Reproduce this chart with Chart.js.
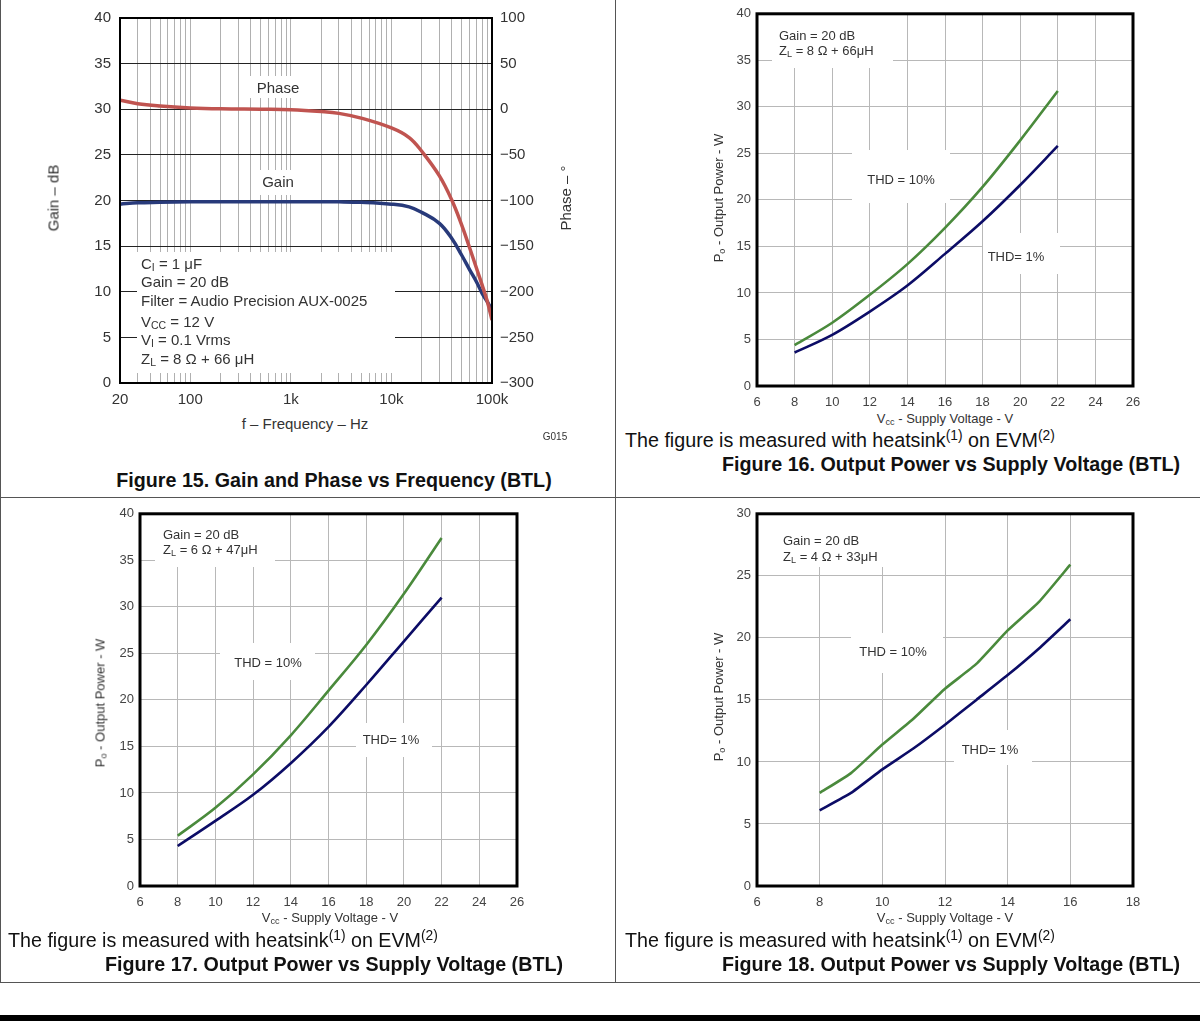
<!DOCTYPE html>
<html>
<head>
<meta charset="utf-8">
<script src="https://cdn.jsdelivr.net/npm/chart.js@4.4.1/dist/chart.umd.min.js"></script>
<style>
  body { margin: 0; background: #fff; font-family: 'Liberation Sans', Arial, sans-serif; color: #222; }
  #page { position: relative; width: 1200px; height: 1021px; overflow: hidden; }
  canvas { position: absolute; }
  .t { position: absolute; white-space: nowrap; line-height: 1; }
  .c { transform: translate(-50%, -50%); }
  .l { transform: translateY(-50%); }
  .r { transform: translate(-100%, -50%); }
  .rot { transform: translate(-50%, -50%) rotate(-90deg); }
  .f15 { font-size: 15px; color: #333; }
  .sm { font-size: 13px; color: #333; }
  .cap { font-size: 19.7px; color: #111; }
  .fig { font-size: 19.7px; font-weight: bold; color: #111; }
  sub { font-size: 70%; vertical-align: -0.25em; line-height: 0; }
  sup { font-size: 70%; vertical-align: 0.55em; line-height: 0; }
  .rule { position: absolute; background: #555; }
</style>
</head>
<body>
<div id="page">
  <canvas id="fig15" width="612" height="410" style="left:0;top:0"></canvas>
  <canvas id="fig16" width="575" height="410" style="left:620px;top:0"></canvas>
  <canvas id="fig17" width="612" height="410" style="left:0;top:500px"></canvas>
  <canvas id="fig18" width="575" height="410" style="left:620px;top:500px"></canvas>

  <!-- table rules -->
  <div class="rule" style="left:0;top:0;width:1px;height:983px"></div>
  <div class="rule" style="left:615px;top:0;width:1px;height:983px"></div>
  <div class="rule" style="left:0;top:497px;width:1200px;height:1px"></div>
  <div class="rule" style="left:0;top:982px;width:1200px;height:1px"></div>
  <div class="rule" style="left:0;top:1015px;width:1200px;height:6px;background:#000"></div>

  <!-- Figure 15 text -->
  <div class="t rot f15" style="left:53px;top:198px">Gain – dB</div>
  <div class="t rot f15" style="left:565px;top:198px">Phase – °</div>
  <div class="t c f15" style="left:305px;top:423px">f – Frequency – Hz</div>
  <div class="t c" style="left:555px;top:437px;font-size:10px;color:#333">G015</div>
  <div class="t c f15" style="left:278px;top:87px">Phase</div>
  <div class="t c f15" style="left:278px;top:181px">Gain</div>
  <div class="t l f15" style="left:141px;top:263px">C<sub>I</sub> = 1 μF</div>
  <div class="t l f15" style="left:141px;top:281px">Gain = 20 dB</div>
  <div class="t l f15" style="left:141px;top:300px">Filter = Audio Precision AUX-0025</div>
  <div class="t l f15" style="left:141px;top:321px">V<sub>CC</sub> = 12 V</div>
  <div class="t l f15" style="left:141px;top:339px">V<sub>I</sub> = 0.1 Vrms</div>
  <div class="t l f15" style="left:141px;top:358px">Z<sub>L</sub> = 8 Ω + 66 μH</div>
  <div class="t c fig" style="left:334px;top:481px">Figure 15. Gain and Phase vs Frequency (BTL)</div>

  <!-- Figure 16 text -->
  <div class="t l sm" style="left:779px;top:35px">Gain = 20 dB</div>
  <div class="t l sm" style="left:779px;top:50px">Z<sub>L</sub> = 8 Ω + 66μH</div>
  <div class="t c sm" style="left:901px;top:179px">THD = 10%</div>
  <div class="t c sm" style="left:1016px;top:256px">THD= 1%</div>
  <div class="t rot sm" style="left:718px;top:198px">P<sub>o</sub> - Output Power - W</div>
  <div class="t c sm" style="left:945px;top:418px">V<sub>cc</sub> - Supply Voltage - V</div>
  <div class="t l cap" style="left:625px;top:441px">The figure is measured with heatsink<sup>(1)</sup> on EVM<sup>(2)</sup></div>
  <div class="t r fig" style="left:1180px;top:465px">Figure 16. Output Power vs Supply Voltage (BTL)</div>

  <!-- Figure 17 text -->
  <div class="t l sm" style="left:163px;top:534px">Gain = 20 dB</div>
  <div class="t l sm" style="left:163px;top:549px">Z<sub>L</sub> = 6 Ω + 47μH</div>
  <div class="t c sm" style="left:268px;top:662px">THD = 10%</div>
  <div class="t c sm" style="left:391px;top:739px">THD= 1%</div>
  <div class="t rot sm" style="left:100px;top:703px">P<sub>o</sub> - Output Power - W</div>
  <div class="t c sm" style="left:330px;top:917px">V<sub>cc</sub> - Supply Voltage - V</div>
  <div class="t l cap" style="left:8px;top:941px">The figure is measured with heatsink<sup>(1)</sup> on EVM<sup>(2)</sup></div>
  <div class="t r fig" style="left:563px;top:965px">Figure 17. Output Power vs Supply Voltage (BTL)</div>

  <!-- Figure 18 text -->
  <div class="t l sm" style="left:783px;top:540px">Gain = 20 dB</div>
  <div class="t l sm" style="left:783px;top:556px">Z<sub>L</sub> = 4 Ω + 33μH</div>
  <div class="t c sm" style="left:893px;top:651px">THD = 10%</div>
  <div class="t c sm" style="left:990px;top:749px">THD= 1%</div>
  <div class="t rot sm" style="left:718px;top:697px">P<sub>o</sub> - Output Power - W</div>
  <div class="t c sm" style="left:945px;top:917px">V<sub>cc</sub> - Supply Voltage - V</div>
  <div class="t l cap" style="left:625px;top:941px">The figure is measured with heatsink<sup>(1)</sup> on EVM<sup>(2)</sup></div>
  <div class="t r fig" style="left:1180px;top:965px">Figure 18. Output Power vs Supply Voltage (BTL)</div>
</div>

<script>
// Figure 15 - gain and phase vs frequency
const fig15Freq = [20, 30, 50, 100, 200, 500, 1000, 2000, 3000, 5000, 10000, 15000, 20000, 30000, 40000, 50000, 60000, 70000, 80000, 90000, 100000];
const fig15Gain = [19.6, 19.75, 19.8, 19.85, 19.85, 19.85, 19.85, 19.85, 19.85, 19.8, 19.6, 19.3, 18.7, 17.5, 15.8, 14.0, 12.4, 11.1, 9.8, 8.9, 8.0];
const fig15Phase = [10, 6, 3.5, 1.5, 0.5, 0, -0.5, -2.5, -4.5, -9.7, -20.5, -31, -46, -73, -100, -127, -152, -174, -193, -211, -231];
const fig15FreqTicks = [20, 100, 1000, 10000, 100000];
const fig15FreqLabels = ['20', '100', '1k', '10k', '100k'];

// Figures 16-18 - output power vs supply voltage
const fig16Vcc = [8, 10, 12, 14, 16, 18, 20, 22];
const fig16Thd10 = [4.4, 6.8, 9.8, 13.1, 17.0, 21.4, 26.4, 31.7];
const fig16Thd1 = [3.6, 5.5, 8.0, 10.8, 14.2, 17.7, 21.6, 25.8];

const fig17Vcc = [8, 10, 12, 14, 16, 18, 20, 22];
const fig17Thd10 = [5.4, 8.4, 12.0, 16.2, 21.0, 25.9, 31.4, 37.4];
const fig17Thd1 = [4.3, 7.0, 9.8, 13.2, 17.1, 21.6, 26.3, 31.0];

const fig18Vcc = [8, 9, 10, 11, 12, 13, 14, 15, 16];
const fig18Thd10 = [7.5, 9.1, 11.4, 13.5, 15.9, 17.9, 20.6, 22.9, 25.9];
const fig18Thd1 = [6.1, 7.5, 9.4, 11.1, 13.0, 15.0, 17.0, 19.15, 21.5];

const GREEN = '#4a8a3c';
const NAVY = '#0c0c66';

// white label boxes over the grid + black frame round the plot
const paper = {
  id: 'paper',
  beforeDatasetsDraw(chart, args, opts) {
    const ctx = chart.ctx;
    ctx.save();
    ctx.fillStyle = '#fff';
    (opts.boxes || []).forEach(b => ctx.fillRect(b[0], b[1], b[2], b[3]));
    ctx.restore();
  },
  afterDatasetsDraw(chart, args, opts) {
    const a = chart.chartArea, ctx = chart.ctx;
    ctx.save();
    ctx.strokeStyle = '#000';
    ctx.lineWidth = opts.frame;
    ctx.strokeRect(a.left, a.top, a.right - a.left, a.bottom - a.top);
    ctx.restore();
  }
};

const pts = (xs, ys) => xs.map((x, i) => ({ x, y: ys[i] }));

// Fig 15 ---------------------------------------------------------
(function () {
  const W = 612, H = 410;
  const area = { left: 120, right: 492, top: 13, bottom: 383 };
  // log grid: 20..90, 100..900, ... 100k
  const grid = [];
  for (let d = 10; d <= 10000; d *= 10) {
    for (let m = 1; m < 10; m++) {
      const v = m * d;
      if (v >= 20) grid.push(v);
    }
  }
  grid.push(100000);
  const tickFont = { family: "'Liberation Sans', Arial, sans-serif", size: 15 };

  new Chart(document.getElementById('fig15'), {
    type: 'line',
    data: {
      datasets: [
        { label: 'Phase', data: pts(fig15Freq, fig15Phase), yAxisID: 'y1',
          borderColor: 'rgb(192,84,80)', borderWidth: 3.5, pointRadius: 0, tension: 0.4 },
        { label: 'Gain', data: pts(fig15Freq, fig15Gain), yAxisID: 'y',
          borderColor: 'rgb(40,58,122)', borderWidth: 3.5, pointRadius: 0, tension: 0.4 }
      ]
    },
    options: {
      responsive: false,
      animation: false,
      layout: { padding: { top: area.top, left: 0, right: 0, bottom: 0 } },
      plugins: { legend: { display: false }, tooltip: { enabled: false },
        paper: { frame: 2, boxes: [[250, 76, 54, 22], [252, 170, 50, 25], [137, 252, 258, 121]] } },
      scales: {
        x: {
          type: 'logarithmic', min: 20, max: 100000,
          afterBuildTicks: s => { s.ticks = grid.map(v => ({ value: v })); },
          afterFit: s => { s.height = H - area.bottom; },
          grid: { color: '#b0b0b0', lineWidth: 1, drawTicks: false },
          border: { display: false },
          ticks: {
            autoSkip: false, maxRotation: 0, padding: 8, color: '#333', font: tickFont,
            callback: v => {
              const i = fig15FreqTicks.indexOf(v);
              return i >= 0 ? fig15FreqLabels[i] : '';
            }
          }
        },
        y: {
          min: 0, max: 40,
          afterFit: s => { s.width = area.left; },
          grid: { color: '#222', lineWidth: 1, drawTicks: false },
          border: { display: false },
          ticks: { stepSize: 5, padding: 9, color: '#333', font: tickFont }
        },
        y1: {
          position: 'right', min: -300, max: 100,
          afterFit: s => { s.width = W - area.right; },
          grid: { display: false, drawTicks: false },
          border: { display: false },
          ticks: { stepSize: 50, padding: 8, color: '#333', font: tickFont,
            callback: v => String(v).replace('-', '−') }
        }
      }
    },
    plugins: [paper]
  });
})();

// Figs 16-18 -----------------------------------------------------
function powerChart(id, W, H, area, xMax, yMax, vcc, thd10, thd1, boxes, tension) {
  const tickFont = { family: "'Liberation Sans', Arial, sans-serif", size: 13 };
  const line = (data, color) => ({
    data: pts(vcc, data), borderColor: color, borderWidth: 2.6, pointRadius: 0,
    cubicInterpolationMode: tension ? 'default' : 'monotone', tension: tension || 0
  });
  new Chart(document.getElementById(id), {
    type: 'line',
    data: { datasets: [line(thd10, GREEN), line(thd1, NAVY)] },
    options: {
      responsive: false,
      animation: false,
      layout: { padding: { top: area.top, left: 0, right: W - area.right, bottom: 0 } },
      plugins: { legend: { display: false }, tooltip: { enabled: false },
        paper: { frame: 3, boxes } },
      scales: {
        x: {
          type: 'linear', min: 6, max: xMax,
          afterFit: s => { s.height = H - area.bottom; },
          grid: { color: '#b8b8b8', lineWidth: 1, drawTicks: false },
          border: { display: false },
          ticks: { stepSize: 2, padding: 9, color: '#444', font: tickFont, maxRotation: 0 }
        },
        y: {
          min: 0, max: yMax,
          afterFit: s => { s.width = area.left; },
          grid: { color: '#b8b8b8', lineWidth: 1, drawTicks: false },
          border: { display: false },
          ticks: { stepSize: 5, padding: 6, color: '#444', font: tickFont }
        }
      }
    },
    plugins: [paper]
  });
}

powerChart('fig16', 575, 410, { left: 137, right: 513, top: 11, bottom: 386 }, 26, 40,
  fig16Vcc, fig16Thd10, fig16Thd1,
  [[152, 13, 121, 55], [232, 150, 98, 53], [363, 233, 77, 41]]);
powerChart('fig17', 612, 410, { left: 140, right: 517, top: 11, bottom: 386 }, 26, 40,
  fig17Vcc, fig17Thd10, fig17Thd1,
  [[155, 13, 120, 54], [220, 143, 95, 37], [356, 223, 76, 34]]);
powerChart('fig18', 575, 410, { left: 137, right: 513, top: 11, bottom: 386 }, 18, 30,
  fig18Vcc, fig18Thd10, fig18Thd1,
  [[155, 13, 109, 54], [231, 133, 92, 40], [334, 230, 78, 35]], 0.15);
</script>
</body>
</html>
